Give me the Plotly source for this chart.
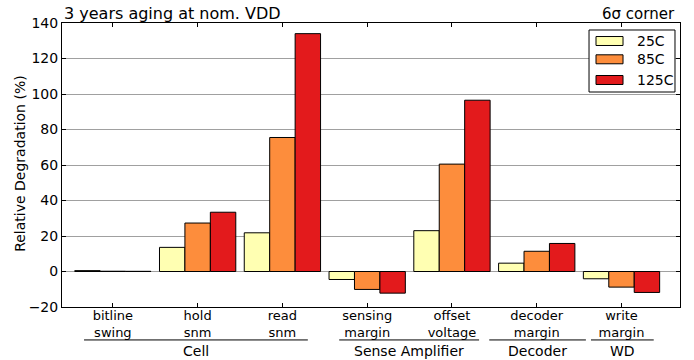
import plotly.graph_objects as go

categories = ["bitline<br>swing", "hold<br>snm", "read<br>snm", "sensing<br>margin",
              "offset<br>voltage", "decoder<br>margin", "write<br>margin"]
series_names = ["25C", "85C", "125C"]
vals_25C = [0.5, 13.6, 21.8, -4.5, 23.0, 4.7, -4.1]
vals_85C = [0.15, 27.3, 75.5, -10.1, 60.5, 11.4, -8.8]
vals_125C = [0.1, 33.4, 134.0, -12.2, 96.5, 15.8, -11.8]
colors = ["#FFFFB2", "#FD8D3C", "#E31A1C"]
groups = ["Cell", "Sense Amplifier", "Decoder", "WD"]
yticks = [-20, 0, 20, 40, 60, 80, 100, 120, 140]

xs = list(range(len(categories)))
fig = go.Figure()
for name, vals, c in zip(series_names, [vals_25C, vals_85C, vals_125C], colors):
    fig.add_trace(go.Bar(x=xs, y=vals, name=name, marker=dict(color=c, line=dict(color="black", width=1)),
                         width=0.3, showlegend=False))

font = "DejaVu Sans"
fig.update_layout(
    width=694, height=360,
    margin=dict(l=62, r=14, t=23, b=53),
    barmode="group", bargap=0.1, bargroupgap=0,
    plot_bgcolor="white", paper_bgcolor="white",
    font=dict(family=font, size=14, color="black"),
    showlegend=False,
)
fig.update_xaxes(range=[-0.6, 6.69], tickvals=xs, ticktext=categories, automargin=False,
                 showline=True, linecolor="black", linewidth=1, mirror="ticks",
                 ticks="inside", ticklen=4, tickcolor="black", showgrid=False,
                 zeroline=False, tickfont=dict(size=13), ticklabelstandoff=-4)
fig.update_yaxes(range=[-20, 140], tickvals=yticks, ticktext=[("−" + str(-v)) if v < 0 else str(v) for v in yticks],
                 automargin=False,
                 showline=True, linecolor="black", linewidth=1, mirror="ticks",
                 ticks="inside", ticklen=4, tickcolor="black",
                 showgrid=True, gridcolor="#a0a0a0", gridwidth=1,
                 zeroline=True, zerolinecolor="#a0a0a0", zerolinewidth=1,
                 tickfont=dict(size=14))

fig.add_annotation(x=-0.068, xref="paper", y=0.504, yref="paper", text="Relative Degradation (%)",
                   showarrow=False, textangle=-90, xanchor="center", yanchor="middle", font=dict(size=14))

# group underlines and labels
spans = [(-0.34, 2.30), (2.67, 4.32), (4.44, 5.58), (5.64, 6.38)]
for g, (a, b) in zip(groups, spans):
    fig.add_shape(type="line", xref="x", yref="paper", x0=a, x1=b, y0=-0.116, y1=-0.116,
                  line=dict(color="black", width=1))
    fig.add_annotation(x=(a + b) / 2, y=-0.119, xref="x", yref="paper", text=g,
                       showarrow=False, yanchor="top", font=dict(size=14))

# legend (matplotlib style, wide swatches)
fig.add_shape(type="rect", xref="paper", yref="paper", x0=0.8528, x1=0.9919, y0=0.757, y1=0.9754,
              line=dict(color="black", width=1), fillcolor="white", layer="above")
leg_y = [0.9366, 0.8722, 0.7993]
for name, c, yy in zip(series_names, colors, leg_y):
    fig.add_shape(type="rect", xref="paper", yref="paper", x0=0.8641, x1=0.9078,
                  y0=yy - 0.0158, y1=yy + 0.0158, line=dict(color="black", width=1),
                  fillcolor=c, layer="above")
    fig.add_annotation(x=0.9272, y=yy, xref="paper", yref="paper", text=name, showarrow=False,
                       xanchor="left", yanchor="middle", font=dict(size=14))

fig.add_annotation(x=0, y=1.032, xref="paper", yref="paper", text="3 years aging at nom. VDD",
                   showarrow=False, xanchor="left", yanchor="middle", xshift=1, borderpad=0,
                   font=dict(size=16))
fig.add_annotation(x=1, y=1.032, xref="paper", yref="paper", text="6σ corner",
                   showarrow=False, xanchor="right", yanchor="middle", xshift=-4, borderpad=0,
                   font=dict(size=15))

fig.write_html("out.html", config={"displayModeBar": False},
               post_script="document.body.style.margin='0';")
